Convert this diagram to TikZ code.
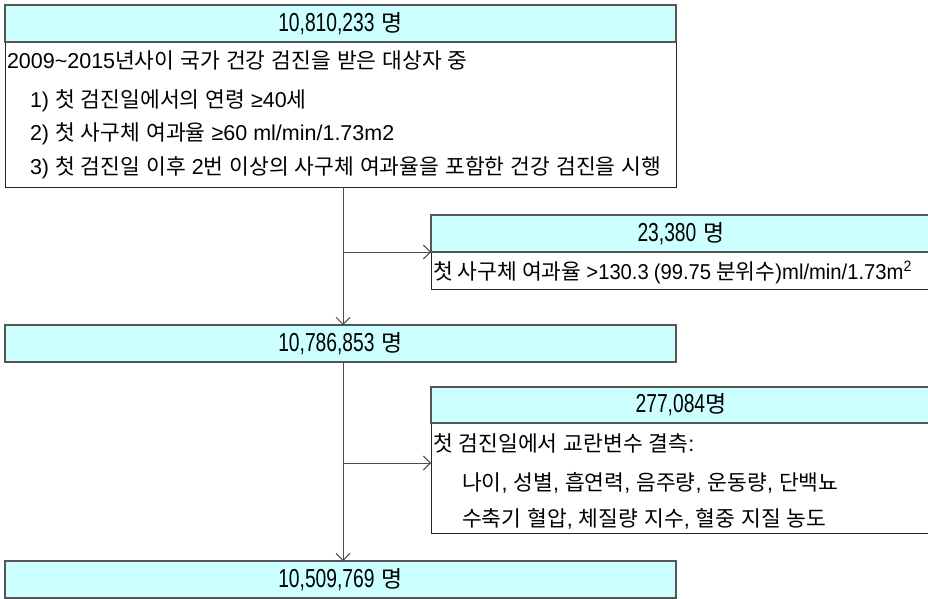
\documentclass[tikz,border=0pt]{standalone}
\usepackage{fontspec}
\setmainfont{Noto Sans CJK KR}
\newfontfamily\latfont{Liberation Sans}
\newfontfamily\latnar{Liberation Sans}[FakeStretch=0.94]
\newfontfamily\hdrlat{Liberation Sans}[FakeStretch=0.74]
\newcommand{\ltn}[1]{{\latfont #1}}
\newcommand{\ltc}[1]{{\latnar #1}}
\newcommand{\hn}[1]{{\hdrlat\fontsize{26}{28}\selectfont #1}}
\newcommand{\bodyfont}{\fontsize{21.5}{24}\selectfont\spaceskip=6pt\relax}
\newcommand{\bodyfonttight}{\fontsize{21.5}{24}\selectfont\spaceskip=5pt\relax}
\newcommand{\headfont}{\fontsize{23}{26}\selectfont\spaceskip=7pt\relax}
\usetikzlibrary{arrows.meta}
\definecolor{hdrfill}{HTML}{CCFFFF}
\definecolor{edge}{HTML}{555555}
\begin{document}
\begin{tikzpicture}[x=1pt,y=-1pt,
  every node/.style={inner sep=0pt, outer sep=0pt},
  bodybox/.style={draw=black!85, line width=1pt, anchor=north west},
  hdr/.style={draw=edge, fill=hdrfill, line width=1.6pt, anchor=north west, font=\headfont},
  txt/.style={anchor=base west, font=\bodyfont},
  txttight/.style={anchor=base west, font=\bodyfonttight},
  flow/.style={draw=black!70, line width=1pt, -{Straight Barb[length=7pt,width=14pt]}}
]
\useasboundingbox (0,0) rectangle (928,599);
\fill[white] (0,0) rectangle (928,599);

% top box
\node[bodybox, minimum width=671pt, minimum height=182pt] (b1) at (5,5) {};
\node[hdr, minimum width=671pt, minimum height=37pt] (h1) at (5,5) {\hn{10,810,233} 명};
\node[txt] (t1a) at (7,69) {\ltn{2009\string~2015}년사이 국가 건강 검진을 받은 대상자 중};
\node[txt] (t1b) at (30,107) {\ltn{1)} 첫 검진일에서의 연령 \ltn{≥40}세};
\node[txt] (t1c) at (30,140) {\ltn{2)} 첫 사구체 여과율 \ltn{≥60 ml/min/1.73m2}};
\node[txt] (t1d) at (30,174) {\ltn{3)} 첫 검진일 이후 \ltn{2}번 이상의 사구체 여과율을 포함한 건강 검진을 시행};

% exclusion box 1
\node[bodybox, minimum width=500pt, minimum height=74pt] (b2) at (431,215) {};
\node[hdr, minimum width=500pt, minimum height=37pt] (h2) at (431,215) {\hn{23,380} 명};
\node[txttight] (t2a) at (433,279) {첫 사구체 여과율 \ltc{>130.3 (99.75} 분위수\ltc{)ml/min/1.73m\textsuperscript{2}}};

% second box
\node[hdr, minimum width=671pt, minimum height=37pt] (h3) at (5,325) {\hn{10,786,853} 명};

% exclusion box 2
\node[bodybox, minimum width=500pt, minimum height=146pt] (b4) at (431,387) {};
\node[hdr, minimum width=500pt, minimum height=36pt] (h4) at (431,387) {\hn{277,084}명};
\node[txt] (t4a) at (433,451) {첫 검진일에서 교란변수 결측\ltn{:}};
\node[txt] (t4b) at (462,490) {나이\ltn{,} 성별\ltn{,} 흡연력\ltn{,} 음주량\ltn{,} 운동량\ltn{,} 단백뇨};
\node[txt] (t4c) at (462,526) {수축기 혈압\ltn{,} 체질량 지수\ltn{,} 혈중 지질 농도};

% final box
\node[hdr, minimum width=671pt, minimum height=37pt] (h5) at (5,561) {\hn{10,509,769} 명};

% connectors
\coordinate (j1) at (343,252);
\coordinate (j2) at (343,463);
\draw[flow] (b1.south -| j1) -- (h3.north -| j1);
\draw[flow] (j1) -- (j1 -| b2.west);
\draw[flow] (h3.south -| j2) -- (h5.north -| j2);
\draw[flow] (j2) -- (j2 -| b4.west);
\end{tikzpicture}
\end{document}
